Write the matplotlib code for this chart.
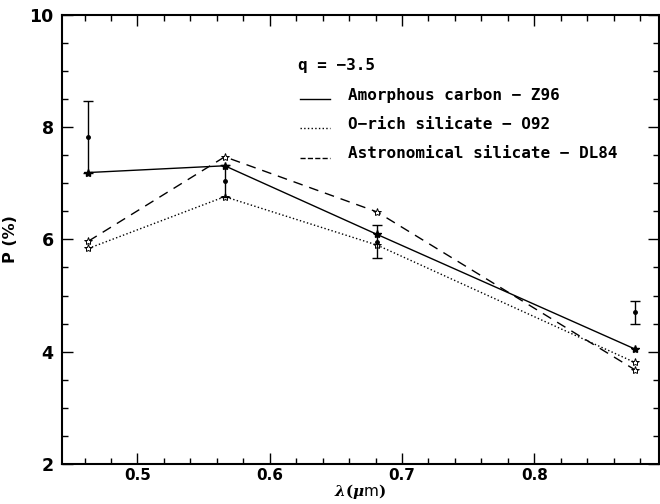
import numpy as np
import matplotlib
matplotlib.use('Agg')
import matplotlib.pyplot as plt
from matplotlib.ticker import MultipleLocator

# wavelengths of the four bands (as placed on the plot)
wl = [0.463, 0.566, 0.681, 0.876]

# model curves, q = -3.5
p_carbon = [7.19, 7.31, 6.09, 4.05]
p_orich = [5.84, 6.76, 5.90, 3.81]
p_astro = [5.97, 7.47, 6.49, 3.68]

# observed polarisation and errors
p_obs = [7.82, 7.04, 5.96, 4.70]
p_err = [0.64, 0.28, 0.29, 0.21]

plt.rcParams['font.weight'] = 'bold'
fig = plt.figure(figsize=(6.6, 5.04), dpi=100)
ax = fig.add_axes([0.094, 0.079, 0.904, 0.892])

ax.plot(wl, p_carbon, '-', color='k', lw=1.0, marker='*', ms=6, mfc='k', mec='k')
ax.plot(wl, p_orich, ':', color='k', lw=1.0, marker='*', ms=6, mfc='white', mec='k', mew=0.7)
ax.plot(wl, p_astro, '--', color='k', lw=1.0, dashes=(7, 5), marker='*', ms=6,
        mfc='white', mec='k', mew=0.7)
ax.errorbar(wl, p_obs, yerr=p_err, fmt='o', color='k', ms=2.5, capsize=3.5,
            elinewidth=1.0, capthick=1.0)

ax.set_xlim(0.443, 0.894)
ax.set_ylim(2, 10)
ax.xaxis.set_major_locator(MultipleLocator(0.1))
ax.xaxis.set_minor_locator(MultipleLocator(0.02))
ax.yaxis.set_major_locator(MultipleLocator(2))
ax.yaxis.set_minor_locator(MultipleLocator(0.5))
ax.tick_params(which='both', direction='in', top=True, right=True, width=1)
ax.tick_params(which='major', length=8)
ax.tick_params(which='minor', length=4)
ax.tick_params(axis='x', labelsize=11, pad=3)
ax.tick_params(axis='y', labelsize=12.5, pad=6)
for lab in ax.get_xticklabels() + ax.get_yticklabels():
    lab.set_fontweight('bold')
for sp in ax.spines.values():
    sp.set_linewidth(1.5)

ax.set_xlabel(r'$\lambda(\mu$m$)$', fontsize=11, labelpad=-1,
              math_fontfamily='dejavuserif')
ax.set_ylabel('P (%)', fontsize=11.5, fontweight='bold', labelpad=8)

# legend drawn by hand in axes fraction
mono = dict(family='DejaVu Sans Mono', fontsize=11.5, fontweight='bold',
            va='center', transform=ax.transAxes)
ax.text(0.395, 0.886, 'q = \u22123.5', **mono)
rows = [(0.820, '-', 'Amorphous carbon \u2212 Z96'),
        (0.755, ':', 'O\u2212rich silicate \u2212 O92'),
        (0.690, '--', 'Astronomical silicate \u2212 DL84')]
for yy, ls, txt in rows:
    ax.plot([0.399, 0.449], [yy - 0.008, yy - 0.008], ls, color='k', lw=1.0,
            transform=ax.transAxes)
    ax.text(0.479, yy, txt, **mono)

fig.savefig('out.png', dpi=100)
